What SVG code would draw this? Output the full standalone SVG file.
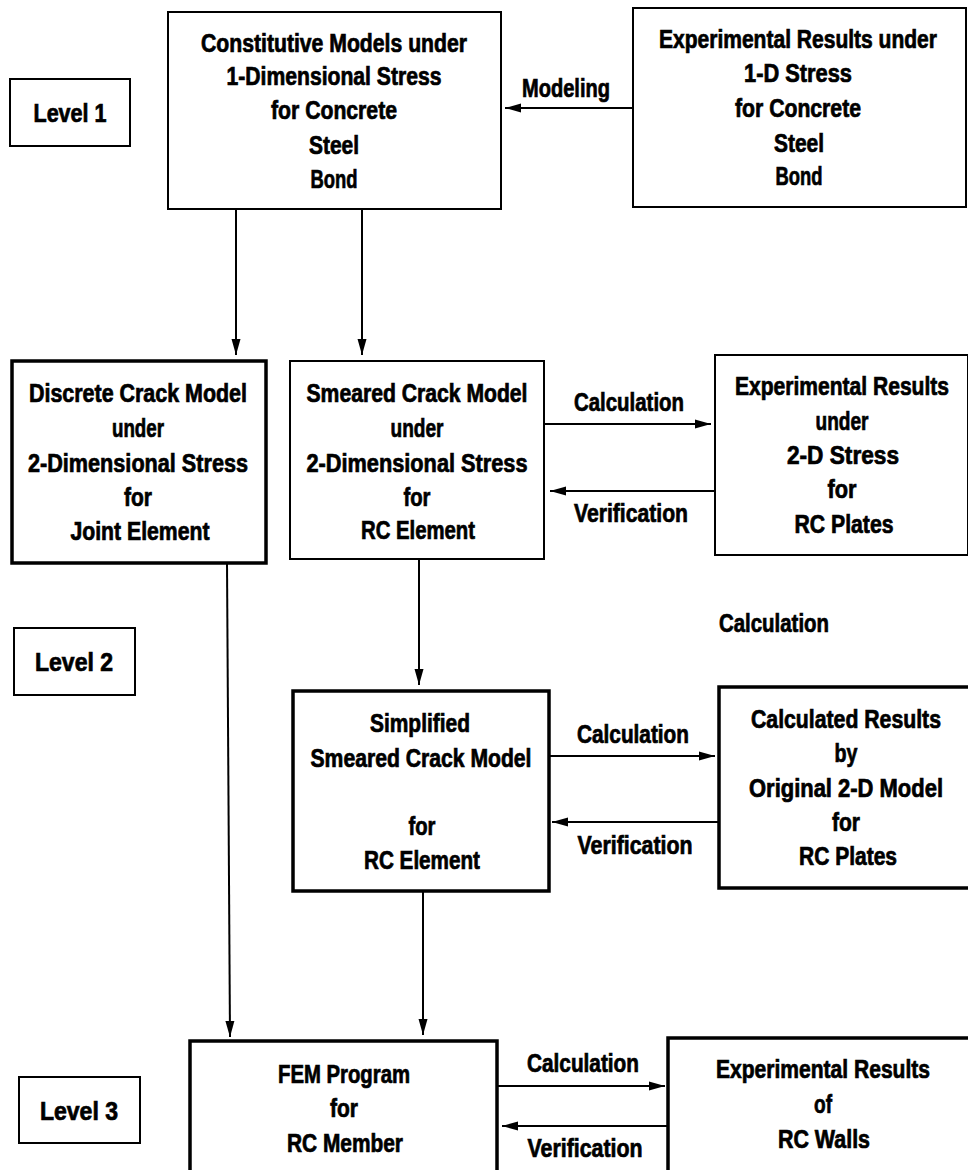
<svg xmlns="http://www.w3.org/2000/svg" width="968" height="1170" viewBox="0 0 968 1170">
<style>
  .box{fill:#fff;stroke:#000;stroke-width:2}
  .thick{stroke-width:3.5}
  text{font-family:"Liberation Sans",Arial,sans-serif;font-weight:bold;font-size:21px;text-anchor:middle;fill:#000;stroke:#000;stroke-width:0.6}
  .ln{stroke:#000;stroke-width:2;fill:none}
</style>
<defs>
  <marker id="ah" viewBox="0 0 16 10" refX="16" refY="5" markerWidth="16" markerHeight="10" markerUnits="userSpaceOnUse" orient="auto">
    <path d="M0,0.5 L16,5 L0,9.5 Z" fill="#000"/>
  </marker>
</defs>
<rect width="968" height="1170" fill="#fff"/>

<g id="level1"><rect class="box" x="10" y="79" width="120" height="67"/><text x="70" transform="translate(0,122) scale(1,1.2)" textLength="73" lengthAdjust="spacingAndGlyphs">Level 1</text></g>
<g id="level2"><rect class="box" x="14" y="628" width="121" height="67"/><text x="74" transform="translate(0,671) scale(1,1.2)" textLength="78" lengthAdjust="spacingAndGlyphs">Level 2</text></g>
<g id="level3"><rect class="box" x="19" y="1077" width="121" height="66"/><text x="79" transform="translate(0,1120) scale(1,1.2)" textLength="78" lengthAdjust="spacingAndGlyphs">Level 3</text></g>

<g id="constitutive">
  <rect class="box" x="168" y="12" width="333" height="197"/>
  <text x="334" transform="translate(0,52) scale(1,1.2)" textLength="266" lengthAdjust="spacingAndGlyphs">Constitutive Models under</text>
  <text x="334" transform="translate(0,85) scale(1,1.2)" textLength="215" lengthAdjust="spacingAndGlyphs">1-Dimensional Stress</text>
  <text x="334" transform="translate(0,119) scale(1,1.2)" textLength="126" lengthAdjust="spacingAndGlyphs">for Concrete</text>
  <text x="334" transform="translate(0,154) scale(1,1.2)" textLength="50" lengthAdjust="spacingAndGlyphs">Steel</text>
  <text x="334" transform="translate(0,188) scale(1,1.2)" textLength="47" lengthAdjust="spacingAndGlyphs">Bond</text>
</g>

<g id="exp1d">
  <rect class="box" x="633" y="8" width="333" height="199"/>
  <text x="798" transform="translate(0,48) scale(1,1.2)" textLength="278" lengthAdjust="spacingAndGlyphs">Experimental Results under</text>
  <text x="798" transform="translate(0,82) scale(1,1.2)" textLength="108" lengthAdjust="spacingAndGlyphs">1-D Stress</text>
  <text x="798" transform="translate(0,117) scale(1,1.2)" textLength="126" lengthAdjust="spacingAndGlyphs">for Concrete</text>
  <text x="799" transform="translate(0,152) scale(1,1.2)" textLength="50" lengthAdjust="spacingAndGlyphs">Steel</text>
  <text x="799" transform="translate(0,185) scale(1,1.2)" textLength="47" lengthAdjust="spacingAndGlyphs">Bond</text>
</g>

<g id="discrete">
  <rect class="box thick" x="12" y="361" width="254" height="202"/>
  <text x="138" transform="translate(0,402) scale(1,1.2)" textLength="218" lengthAdjust="spacingAndGlyphs">Discrete Crack Model</text>
  <text x="138" transform="translate(0,437) scale(1,1.2)" textLength="52" lengthAdjust="spacingAndGlyphs">under</text>
  <text x="138" transform="translate(0,472) scale(1,1.2)" textLength="220" lengthAdjust="spacingAndGlyphs">2-Dimensional Stress</text>
  <text x="138" transform="translate(0,506) scale(1,1.2)" textLength="28" lengthAdjust="spacingAndGlyphs">for</text>
  <text x="140" transform="translate(0,540) scale(1,1.2)" textLength="139" lengthAdjust="spacingAndGlyphs">Joint Element</text>
</g>

<g id="smeared">
  <rect class="box" x="290" y="361" width="254" height="198"/>
  <text x="417" transform="translate(0,402) scale(1,1.2)" textLength="221" lengthAdjust="spacingAndGlyphs">Smeared Crack Model</text>
  <text x="417" transform="translate(0,437) scale(1,1.2)" textLength="53" lengthAdjust="spacingAndGlyphs">under</text>
  <text x="417" transform="translate(0,472) scale(1,1.2)" textLength="221" lengthAdjust="spacingAndGlyphs">2-Dimensional Stress</text>
  <text x="417" transform="translate(0,506) scale(1,1.2)" textLength="27" lengthAdjust="spacingAndGlyphs">for</text>
  <text x="418" transform="translate(0,539) scale(1,1.2)" textLength="114" lengthAdjust="spacingAndGlyphs">RC Element</text>
</g>

<g id="exp2d">
  <rect class="box" x="715" y="355" width="253" height="200"/>
  <text x="842" transform="translate(0,395) scale(1,1.2)" textLength="214" lengthAdjust="spacingAndGlyphs">Experimental Results</text>
  <text x="842" transform="translate(0,430) scale(1,1.2)" textLength="53" lengthAdjust="spacingAndGlyphs">under</text>
  <text x="843" transform="translate(0,464) scale(1,1.2)" textLength="112" lengthAdjust="spacingAndGlyphs">2-D Stress</text>
  <text x="842" transform="translate(0,498) scale(1,1.2)" textLength="29" lengthAdjust="spacingAndGlyphs">for</text>
  <text x="844" transform="translate(0,533) scale(1,1.2)" textLength="99" lengthAdjust="spacingAndGlyphs">RC Plates</text>
</g>

<g id="simplified">
  <rect class="box thick" x="293" y="691" width="256" height="200"/>
  <text x="420" transform="translate(0,732) scale(1,1.2)" textLength="100" lengthAdjust="spacingAndGlyphs">Simplified</text>
  <text x="421" transform="translate(0,767) scale(1,1.2)" textLength="221" lengthAdjust="spacingAndGlyphs">Smeared Crack Model</text>
  <text x="422" transform="translate(0,835) scale(1,1.2)" textLength="27" lengthAdjust="spacingAndGlyphs">for</text>
  <text x="422" transform="translate(0,869) scale(1,1.2)" textLength="116" lengthAdjust="spacingAndGlyphs">RC Element</text>
</g>

<g id="calculated">
  <rect class="box thick" x="719" y="687" width="252" height="201"/>
  <text x="846" transform="translate(0,728) scale(1,1.2)" textLength="190" lengthAdjust="spacingAndGlyphs">Calculated Results</text>
  <text x="846" transform="translate(0,762) scale(1,1.2)" textLength="23" lengthAdjust="spacingAndGlyphs">by</text>
  <text x="846" transform="translate(0,797) scale(1,1.2)" textLength="194" lengthAdjust="spacingAndGlyphs">Original 2-D Model</text>
  <text x="846" transform="translate(0,831) scale(1,1.2)" textLength="28" lengthAdjust="spacingAndGlyphs">for</text>
  <text x="848" transform="translate(0,865) scale(1,1.2)" textLength="98" lengthAdjust="spacingAndGlyphs">RC Plates</text>
</g>

<g id="fem">
  <rect class="box thick" x="190" y="1041" width="307" height="140"/>
  <text x="344" transform="translate(0,1083) scale(1,1.2)" textLength="132" lengthAdjust="spacingAndGlyphs">FEM Program</text>
  <text x="344" transform="translate(0,1117) scale(1,1.2)" textLength="28" lengthAdjust="spacingAndGlyphs">for</text>
  <text x="345" transform="translate(0,1152) scale(1,1.2)" textLength="116" lengthAdjust="spacingAndGlyphs">RC Member</text>
</g>

<g id="walls">
  <rect class="box thick" x="668" y="1038" width="303" height="140"/>
  <text x="823" transform="translate(0,1078) scale(1,1.2)" textLength="214" lengthAdjust="spacingAndGlyphs">Experimental Results</text>
  <text x="823" transform="translate(0,1113) scale(1,1.2)" textLength="18" lengthAdjust="spacingAndGlyphs">of</text>
  <text x="824" transform="translate(0,1148) scale(1,1.2)" textLength="92" lengthAdjust="spacingAndGlyphs">RC Walls</text>
</g>

<g id="connectors">
  <line class="ln" x1="633" y1="108" x2="505" y2="108" marker-end="url(#ah)"/>
  <text x="566" transform="translate(0,97) scale(1,1.2)" textLength="88" lengthAdjust="spacingAndGlyphs">Modeling</text>
  <line class="ln" x1="236" y1="209" x2="236" y2="355" marker-end="url(#ah)"/>
  <line class="ln" x1="362" y1="209" x2="362" y2="355" marker-end="url(#ah)"/>
  <line class="ln" x1="544" y1="424" x2="711" y2="424" marker-end="url(#ah)"/>
  <text x="629" transform="translate(0,411) scale(1,1.2)" textLength="110" lengthAdjust="spacingAndGlyphs">Calculation</text>
  <line class="ln" x1="715" y1="491" x2="550" y2="491" marker-end="url(#ah)"/>
  <text x="631" transform="translate(0,522) scale(1,1.2)" textLength="114" lengthAdjust="spacingAndGlyphs">Verification</text>
  <text x="774" transform="translate(0,632) scale(1,1.2)" textLength="110" lengthAdjust="spacingAndGlyphs">Calculation</text>
  <line class="ln" x1="227" y1="563" x2="230" y2="1037" marker-end="url(#ah)"/>
  <line class="ln" x1="419" y1="559" x2="419" y2="685" marker-end="url(#ah)"/>
  <line class="ln" x1="549" y1="756" x2="715" y2="756" marker-end="url(#ah)"/>
  <text x="633" transform="translate(0,743) scale(1,1.2)" textLength="112" lengthAdjust="spacingAndGlyphs">Calculation</text>
  <line class="ln" x1="719" y1="822" x2="552" y2="822" marker-end="url(#ah)"/>
  <text x="635" transform="translate(0,854) scale(1,1.2)" textLength="115" lengthAdjust="spacingAndGlyphs">Verification</text>
  <line class="ln" x1="423" y1="891" x2="423" y2="1035" marker-end="url(#ah)"/>
  <line class="ln" x1="497" y1="1086" x2="665" y2="1086" marker-end="url(#ah)"/>
  <text x="583" transform="translate(0,1072) scale(1,1.2)" textLength="112" lengthAdjust="spacingAndGlyphs">Calculation</text>
  <line class="ln" x1="668" y1="1126" x2="502" y2="1126" marker-end="url(#ah)"/>
  <text x="585" transform="translate(0,1157) scale(1,1.2)" textLength="115" lengthAdjust="spacingAndGlyphs">Verification</text>
</g>
</svg>
